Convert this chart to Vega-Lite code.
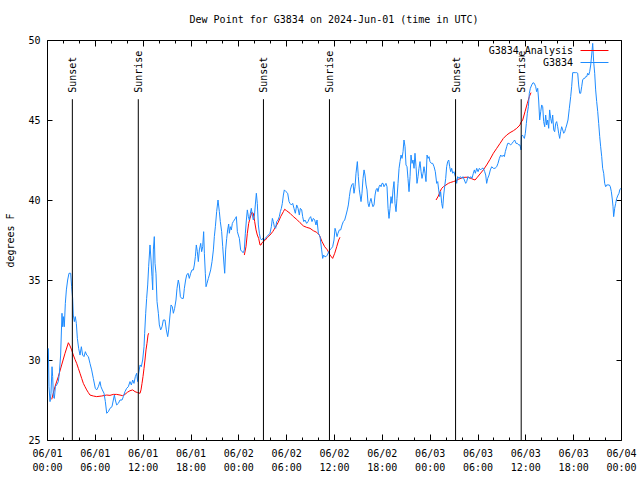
{
"$schema": "https://vega.github.io/schema/vega-lite/v6.json",
"width": 574, "height": 400,
"autosize": "none",
"padding": {"left": 47, "top": 40, "right": 19, "bottom": 40},
"background": "white",
"title": {"text": "Dew Point for G3834 on 2024-Jun-01 (time in UTC)", "font": "DejaVu Sans Mono", "fontSize": 10, "fontWeight": "normal", "color": "black", "anchor": "middle", "offset": 10},
"config": {
 "view": {"stroke": "black", "strokeWidth": 1},
 "axis": {"grid": false, "domain": false, "labelFont": "DejaVu Sans Mono", "labelFontSize": 10, "labelColor": "black", "tickColor": "black", "tickWidth": 1, "titleFont": "DejaVu Sans Mono", "titleFontSize": 10, "titleFontWeight": "normal", "titleColor": "black"}
},
"resolve": {"axis": {"x": "independent", "y": "independent"}},
"datasets": {
 "sun": [{"h":3.18,"ev":"Sunset"},{"h":11.45,"ev":"Sunrise"},{"h":27.15,"ev":"Sunset"},{"h":35.43,"ev":"Sunrise"},{"h":51.25,"ev":"Sunset"},{"h":59.48,"ev":"Sunrise"}],
 "ana": [
{"seg":1,"h":0.59,"v":27.54},{"seg":1,"h":1.00,"v":28.33},{"seg":1,"h":1.42,"v":28.96},{"seg":1,"h":1.84,"v":29.69},{"seg":1,"h":2.26,"v":30.42},{"seg":1,"h":2.68,"v":31.08},{"seg":1,"h":2.89,"v":30.88},{"seg":1,"h":3.09,"v":30.63},{"seg":1,"h":3.30,"v":30.31},{"seg":1,"h":3.51,"v":30.04},{"seg":1,"h":3.72,"v":29.79},{"seg":1,"h":3.93,"v":29.48},{"seg":1,"h":4.14,"v":29.17},{"seg":1,"h":4.35,"v":28.85},{"seg":1,"h":4.56,"v":28.54},{"seg":1,"h":4.77,"v":28.33},{"seg":1,"h":4.98,"v":28.13},{"seg":1,"h":5.19,"v":27.96},{"seg":1,"h":5.39,"v":27.81},{"seg":1,"h":5.81,"v":27.75},{"seg":1,"h":6.23,"v":27.71},{"seg":1,"h":6.86,"v":27.75},{"seg":1,"h":7.49,"v":27.81},{"seg":1,"h":7.90,"v":27.79},{"seg":1,"h":8.32,"v":27.85},{"seg":1,"h":8.74,"v":27.85},{"seg":1,"h":9.16,"v":27.81},{"seg":1,"h":9.49,"v":27.77},{"seg":1,"h":9.78,"v":27.85},{"seg":1,"h":10.08,"v":27.98},{"seg":1,"h":10.41,"v":28.08},{"seg":1,"h":10.75,"v":28.13},{"seg":1,"h":11.04,"v":28.02},{"seg":1,"h":11.37,"v":27.96},{"seg":1,"h":11.67,"v":27.92},{"seg":1,"h":11.79,"v":28.13},{"seg":1,"h":11.92,"v":28.54},{"seg":1,"h":12.04,"v":28.96},{"seg":1,"h":12.17,"v":29.48},{"seg":1,"h":12.29,"v":30.00},{"seg":1,"h":12.42,"v":30.63},{"seg":1,"h":12.54,"v":31.04},{"seg":1,"h":12.67,"v":31.56},{"seg":1,"h":12.75,"v":31.67},
{"seg":2,"h":24.75,"v":36.56},{"seg":2,"h":24.96,"v":37.08},{"seg":2,"h":25.13,"v":37.92},{"seg":2,"h":25.30,"v":38.54},{"seg":2,"h":25.46,"v":38.85},{"seg":2,"h":25.67,"v":39.21},{"seg":2,"h":25.88,"v":39.17},{"seg":2,"h":26.05,"v":38.65},{"seg":2,"h":26.22,"v":38.13},{"seg":2,"h":26.38,"v":37.81},{"seg":2,"h":26.55,"v":37.60},{"seg":2,"h":26.72,"v":37.19},{"seg":2,"h":26.84,"v":37.19},{"seg":2,"h":26.97,"v":37.33},{"seg":2,"h":27.14,"v":37.40},{"seg":2,"h":27.39,"v":37.50},{"seg":2,"h":27.64,"v":37.67},{"seg":2,"h":27.97,"v":37.81},{"seg":2,"h":28.31,"v":38.02},{"seg":2,"h":28.64,"v":38.29},{"seg":2,"h":28.98,"v":38.58},{"seg":2,"h":29.31,"v":38.96},{"seg":2,"h":29.65,"v":39.27},{"seg":2,"h":29.81,"v":39.42},{"seg":2,"h":30.06,"v":39.33},{"seg":2,"h":30.48,"v":39.17},{"seg":2,"h":30.90,"v":38.96},{"seg":2,"h":31.32,"v":38.79},{"seg":2,"h":31.74,"v":38.58},{"seg":2,"h":32.16,"v":38.38},{"seg":2,"h":32.57,"v":38.29},{"seg":2,"h":32.99,"v":38.23},{"seg":2,"h":33.41,"v":38.08},{"seg":2,"h":33.83,"v":37.98},{"seg":2,"h":34.16,"v":37.81},{"seg":2,"h":34.50,"v":37.40},{"seg":2,"h":34.83,"v":37.08},{"seg":2,"h":35.17,"v":36.88},{"seg":2,"h":35.50,"v":36.56},{"seg":2,"h":35.83,"v":36.35},{"seg":2,"h":36.09,"v":36.67},{"seg":2,"h":36.34,"v":37.08},{"seg":2,"h":36.59,"v":37.50},{"seg":2,"h":36.75,"v":37.67},
{"seg":3,"h":48.80,"v":40.00},{"seg":3,"h":49.09,"v":40.25},{"seg":3,"h":49.30,"v":40.52},{"seg":3,"h":49.51,"v":40.73},{"seg":3,"h":49.72,"v":40.83},{"seg":3,"h":50.05,"v":40.94},{"seg":3,"h":50.34,"v":41.04},{"seg":3,"h":50.64,"v":41.10},{"seg":3,"h":50.97,"v":41.15},{"seg":3,"h":51.31,"v":41.21},{"seg":3,"h":51.60,"v":41.29},{"seg":3,"h":52.02,"v":41.38},{"seg":3,"h":52.43,"v":41.42},{"seg":3,"h":52.85,"v":41.42},{"seg":3,"h":53.27,"v":41.33},{"seg":3,"h":53.69,"v":41.25},{"seg":3,"h":53.98,"v":41.42},{"seg":3,"h":54.32,"v":41.63},{"seg":3,"h":54.73,"v":41.88},{"seg":3,"h":55.15,"v":42.19},{"seg":3,"h":55.57,"v":42.54},{"seg":3,"h":55.99,"v":42.92},{"seg":3,"h":56.41,"v":43.23},{"seg":3,"h":56.83,"v":43.54},{"seg":3,"h":57.24,"v":43.85},{"seg":3,"h":57.66,"v":44.06},{"seg":3,"h":58.08,"v":44.21},{"seg":3,"h":58.50,"v":44.33},{"seg":3,"h":58.92,"v":44.48},{"seg":3,"h":59.33,"v":44.69},{"seg":3,"h":59.42,"v":44.83},{"seg":3,"h":59.67,"v":45.00},{"seg":3,"h":59.96,"v":45.52},{"seg":3,"h":60.25,"v":46.04},{"seg":3,"h":60.50,"v":46.46},{"seg":3,"h":60.71,"v":46.71}
 ],
 "obs": [
{"h":0.17,"v":30.73},{"h":0.25,"v":28.33},{"h":0.38,"v":27.40},{"h":0.50,"v":27.92},{"h":0.63,"v":29.58},{"h":0.71,"v":28.96},{"h":0.80,"v":27.71},{"h":0.92,"v":27.60},{"h":1.05,"v":28.33},{"h":1.21,"v":28.44},{"h":1.42,"v":28.65},{"h":1.55,"v":29.17},{"h":1.71,"v":30.31},{"h":1.88,"v":32.92},{"h":1.97,"v":32.08},{"h":2.05,"v":32.71},{"h":2.17,"v":32.08},{"h":2.30,"v":33.54},{"h":2.43,"v":34.38},{"h":2.59,"v":35.00},{"h":2.76,"v":35.42},{"h":2.97,"v":35.42},{"h":3.09,"v":34.58},{"h":3.22,"v":33.85},{"h":3.30,"v":32.81},{"h":3.43,"v":32.40},{"h":3.55,"v":32.71},{"h":3.68,"v":32.29},{"h":3.81,"v":31.35},{"h":3.97,"v":30.73},{"h":4.14,"v":30.31},{"h":4.31,"v":30.83},{"h":4.47,"v":30.31},{"h":4.64,"v":30.21},{"h":4.81,"v":30.52},{"h":4.98,"v":30.31},{"h":5.19,"v":30.21},{"h":5.39,"v":29.79},{"h":5.60,"v":29.38},{"h":5.81,"v":28.85},{"h":6.06,"v":28.23},{"h":6.23,"v":28.13},{"h":6.44,"v":28.33},{"h":6.65,"v":28.65},{"h":6.77,"v":28.33},{"h":6.94,"v":28.13},{"h":7.15,"v":27.92},{"h":7.32,"v":27.40},{"h":7.49,"v":26.67},{"h":7.69,"v":26.77},{"h":7.90,"v":26.98},{"h":8.15,"v":27.08},{"h":8.32,"v":27.50},{"h":8.45,"v":27.81},{"h":8.57,"v":27.50},{"h":8.74,"v":27.19},{"h":8.95,"v":27.29},{"h":9.16,"v":27.50},{"h":9.41,"v":27.50},{"h":9.58,"v":27.71},{"h":9.78,"v":28.02},{"h":9.99,"v":28.23},{"h":10.20,"v":28.33},{"h":10.41,"v":28.65},{"h":10.58,"v":28.44},{"h":10.75,"v":28.75},{"h":10.91,"v":28.54},{"h":11.08,"v":28.96},{"h":11.25,"v":29.17},{"h":11.37,"v":28.65},{"h":11.50,"v":29.17},{"h":11.67,"v":29.69},{"h":11.83,"v":29.58},{"h":12.00,"v":30.00},{"h":12.17,"v":30.83},{"h":12.25,"v":31.67},{"h":12.38,"v":32.92},{"h":12.50,"v":33.85},{"h":12.63,"v":34.69},{"h":12.75,"v":35.83},{"h":12.92,"v":37.19},{"h":13.05,"v":36.25},{"h":13.17,"v":35.21},{"h":13.26,"v":34.38},{"h":13.34,"v":36.88},{"h":13.46,"v":37.71},{"h":13.55,"v":36.04},{"h":13.67,"v":35.42},{"h":13.80,"v":33.65},{"h":13.97,"v":32.92},{"h":14.09,"v":32.19},{"h":14.26,"v":31.88},{"h":14.43,"v":32.08},{"h":14.59,"v":32.50},{"h":14.80,"v":32.50},{"h":14.97,"v":31.88},{"h":15.14,"v":31.46},{"h":15.26,"v":31.88},{"h":15.43,"v":32.81},{"h":15.56,"v":33.44},{"h":15.72,"v":33.33},{"h":15.85,"v":32.92},{"h":16.01,"v":33.23},{"h":16.18,"v":33.75},{"h":16.31,"v":34.48},{"h":16.47,"v":35.00},{"h":16.60,"v":34.69},{"h":16.73,"v":33.96},{"h":16.89,"v":33.85},{"h":17.10,"v":33.85},{"h":17.23,"v":34.48},{"h":17.39,"v":35.00},{"h":17.52,"v":35.31},{"h":17.69,"v":35.42},{"h":17.85,"v":35.10},{"h":18.02,"v":35.42},{"h":18.19,"v":35.63},{"h":18.36,"v":35.63},{"h":18.48,"v":35.94},{"h":18.61,"v":36.46},{"h":18.73,"v":37.19},{"h":18.86,"v":36.77},{"h":18.98,"v":36.15},{"h":19.11,"v":36.88},
{"h":19.28,"v":37.29},{"h":19.40,"v":36.77},{"h":19.53,"v":37.08},{"h":19.65,"v":38.02},{"h":19.74,"v":36.67},{"h":19.86,"v":35.42},{"h":19.95,"v":34.58},{"h":20.07,"v":34.79},{"h":20.24,"v":35.10},{"h":20.36,"v":35.31},{"h":20.53,"v":35.63},{"h":20.70,"v":36.15},{"h":20.87,"v":36.88},{"h":20.99,"v":37.71},{"h":21.12,"v":38.33},{"h":21.28,"v":39.27},{"h":21.45,"v":40.00},{"h":21.62,"v":39.27},{"h":21.74,"v":38.65},{"h":21.91,"v":38.02},{"h":22.04,"v":37.08},{"h":22.16,"v":36.25},{"h":22.29,"v":35.42},{"h":22.41,"v":36.88},{"h":22.54,"v":37.60},{"h":22.66,"v":38.13},{"h":22.79,"v":38.50},{"h":22.87,"v":37.92},{"h":23.00,"v":38.33},{"h":23.12,"v":38.13},{"h":23.25,"v":38.54},{"h":23.37,"v":38.65},{"h":23.50,"v":38.75},{"h":23.63,"v":38.85},{"h":23.75,"v":38.96},{"h":23.88,"v":38.02},{"h":24.00,"v":37.81},{"h":24.13,"v":37.60},{"h":24.29,"v":36.88},{"h":24.46,"v":36.77},{"h":24.63,"v":36.71},{"h":24.75,"v":36.88},{"h":24.88,"v":37.92},{"h":25.01,"v":38.75},{"h":25.13,"v":39.38},{"h":25.26,"v":38.96},{"h":25.38,"v":38.75},{"h":25.51,"v":39.17},{"h":25.63,"v":39.48},{"h":25.76,"v":39.06},{"h":25.88,"v":38.75},{"h":26.01,"v":38.96},{"h":26.13,"v":39.69},{"h":26.26,"v":40.42},{"h":26.38,"v":39.79},{"h":26.51,"v":38.44},{"h":26.64,"v":37.92},{"h":26.76,"v":37.60},{"h":26.93,"v":37.50},{"h":27.05,"v":37.60},{"h":27.22,"v":37.50},{"h":27.39,"v":37.60},{"h":27.56,"v":37.71},{"h":27.76,"v":37.81},{"h":27.97,"v":37.92},{"h":28.14,"v":38.33},{"h":28.27,"v":38.85},{"h":28.39,"v":38.65},{"h":28.52,"v":38.33},{"h":28.68,"v":38.23},{"h":28.81,"v":38.65},{"h":28.98,"v":38.75},{"h":29.14,"v":38.96},{"h":29.27,"v":39.27},{"h":29.40,"v":39.48},{"h":29.52,"v":39.79},{"h":29.65,"v":40.31},{"h":29.77,"v":40.63},{"h":29.98,"v":40.52},{"h":30.19,"v":40.42},{"h":30.36,"v":39.90},{"h":30.48,"v":39.79},{"h":30.65,"v":39.69},{"h":30.82,"v":39.79},{"h":30.98,"v":39.48},{"h":31.15,"v":39.17},{"h":31.32,"v":39.69},{"h":31.49,"v":39.48},{"h":31.65,"v":39.06},{"h":31.78,"v":39.48},{"h":31.95,"v":39.38},{"h":32.07,"v":38.96},{"h":32.20,"v":38.65},{"h":32.36,"v":38.75},{"h":32.57,"v":38.54},{"h":32.74,"v":38.65},{"h":32.91,"v":38.85},{"h":33.07,"v":38.96},{"h":33.24,"v":38.65},{"h":33.41,"v":38.85},{"h":33.58,"v":38.75},{"h":33.74,"v":38.44},{"h":33.87,"v":38.75},{"h":34.04,"v":37.92},{"h":34.25,"v":37.71},{"h":34.45,"v":36.88},{"h":34.58,"v":36.35},{"h":34.71,"v":36.56},{"h":34.83,"v":36.46},{"h":35.00,"v":36.46},{"h":35.17,"v":36.56},{"h":35.33,"v":36.77},{"h":35.50,"v":36.88},{"h":35.67,"v":36.98},{"h":35.83,"v":37.08},{"h":36.00,"v":37.50},{"h":36.13,"v":38.23},{"h":36.25,"v":38.02},{"h":36.38,"v":37.71},{"h":36.50,"v":37.92},{"h":36.67,"v":38.13},{"h":36.84,"v":38.13},{"h":37.01,"v":38.44},{"h":37.17,"v":38.65},{"h":37.34,"v":38.75},{"h":37.51,"v":39.06},{"h":37.67,"v":39.38},{"h":37.80,"v":39.69},{"h":37.93,"v":40.21},{"h":38.05,"v":40.63},{"h":38.22,"v":40.94},{"h":38.39,"v":41.04},{"h":38.51,"v":40.42},{"h":38.64,"v":40.83},{"h":38.76,"v":41.67},{"h":38.93,"v":42.40},{"h":39.05,"v":41.46},{"h":39.18,"v":40.63},
{"h":39.39,"v":39.90},{"h":39.51,"v":40.42},{"h":39.64,"v":41.35},{"h":39.77,"v":41.88},{"h":39.89,"v":41.56},{"h":40.02,"v":40.94},{"h":40.14,"v":40.63},{"h":40.27,"v":39.79},{"h":40.39,"v":39.58},{"h":40.52,"v":39.90},{"h":40.64,"v":40.10},{"h":40.77,"v":39.79},{"h":40.89,"v":39.58},{"h":41.02,"v":39.69},{"h":41.15,"v":40.31},{"h":41.27,"v":40.63},{"h":41.40,"v":40.73},{"h":41.52,"v":40.52},{"h":41.65,"v":40.83},{"h":41.77,"v":40.94},{"h":41.90,"v":40.83},{"h":42.02,"v":41.04},{"h":42.15,"v":41.04},{"h":42.27,"v":40.83},{"h":42.40,"v":40.94},{"h":42.52,"v":41.04},{"h":42.65,"v":40.83},{"h":42.78,"v":39.48},{"h":42.90,"v":38.85},{"h":43.03,"v":39.48},{"h":43.15,"v":40.21},{"h":43.28,"v":39.79},{"h":43.40,"v":40.63},{"h":43.53,"v":41.15},{"h":43.65,"v":39.79},{"h":43.78,"v":39.27},{"h":43.90,"v":40.10},{"h":44.03,"v":41.04},{"h":44.16,"v":41.98},{"h":44.28,"v":42.40},{"h":44.41,"v":42.81},{"h":44.53,"v":42.60},{"h":44.66,"v":43.02},{"h":44.78,"v":43.75},{"h":44.91,"v":43.33},{"h":45.03,"v":42.19},{"h":45.16,"v":42.08},{"h":45.28,"v":41.35},{"h":45.41,"v":40.52},{"h":45.54,"v":41.46},{"h":45.66,"v":42.81},{"h":45.79,"v":42.29},{"h":45.91,"v":42.50},{"h":46.04,"v":41.98},{"h":46.16,"v":42.92},{"h":46.29,"v":42.08},{"h":46.41,"v":41.04},{"h":46.54,"v":41.46},{"h":46.66,"v":41.98},{"h":46.79,"v":42.40},{"h":46.92,"v":41.77},{"h":47.04,"v":41.35},{"h":47.17,"v":41.67},{"h":47.29,"v":42.08},{"h":47.42,"v":41.67},{"h":47.54,"v":41.15},{"h":47.67,"v":42.81},{"h":47.79,"v":42.60},{"h":47.92,"v":42.71},{"h":48.04,"v":42.40},{"h":48.21,"v":42.29},{"h":48.38,"v":42.29},{"h":48.55,"v":42.08},{"h":48.71,"v":41.77},{"h":48.88,"v":41.04},{"h":49.01,"v":41.15},{"h":49.13,"v":40.63},{"h":49.26,"v":40.21},{"h":49.38,"v":40.52},{"h":49.51,"v":39.79},{"h":49.63,"v":39.48},{"h":49.76,"v":40.31},{"h":49.88,"v":40.83},{"h":50.01,"v":41.35},{"h":50.13,"v":42.08},{"h":50.26,"v":42.40},{"h":50.39,"v":42.50},{"h":50.51,"v":42.08},{"h":50.64,"v":41.77},{"h":50.76,"v":41.98},{"h":50.89,"v":41.67},{"h":51.05,"v":41.77},{"h":51.22,"v":41.46},{"h":51.39,"v":41.04},{"h":51.51,"v":41.46},{"h":51.68,"v":41.35},{"h":51.85,"v":41.46},{"h":52.02,"v":41.35},{"h":52.18,"v":41.46},{"h":52.35,"v":41.25},{"h":52.52,"v":41.04},{"h":52.64,"v":41.15},{"h":52.81,"v":41.46},{"h":52.98,"v":41.35},{"h":53.15,"v":41.46},{"h":53.31,"v":41.35},{"h":53.48,"v":41.67},{"h":53.61,"v":41.88},{"h":53.73,"v":41.67},{"h":53.90,"v":41.98},{"h":54.07,"v":41.77},{"h":54.23,"v":41.98},{"h":54.40,"v":41.88},{"h":54.57,"v":41.98},{"h":54.73,"v":41.98},{"h":54.90,"v":41.77},{"h":55.03,"v":41.56},{"h":55.15,"v":41.04},{"h":55.28,"v":41.35},{"h":55.45,"v":41.56},{"h":55.61,"v":41.88},{"h":55.78,"v":42.08},{"h":55.99,"v":41.98},{"h":56.20,"v":41.98},{"h":56.41,"v":42.08},{"h":56.57,"v":42.29},{"h":56.74,"v":42.60},{"h":56.91,"v":42.81},{"h":57.08,"v":42.71},{"h":57.24,"v":42.81},{"h":57.37,"v":42.71},{"h":57.49,"v":43.02},{"h":57.66,"v":43.33},{"h":57.79,"v":43.54},{"h":57.95,"v":43.54},{"h":58.16,"v":43.44},{"h":58.33,"v":43.54},{"h":58.50,"v":43.65},{"h":58.66,"v":43.75},{"h":58.83,"v":43.54},{"h":59.00,"v":43.54},{"h":59.17,"v":43.44},{"h":59.33,"v":43.44},{"h":59.46,"v":43.13},{"h":59.50,"v":43.96},
{"h":59.63,"v":44.06},{"h":59.75,"v":43.96},{"h":59.88,"v":43.85},{"h":60.00,"v":44.17},{"h":60.13,"v":44.79},{"h":60.25,"v":45.42},{"h":60.38,"v":45.83},{"h":60.50,"v":46.67},{"h":60.63,"v":46.98},{"h":60.80,"v":47.19},{"h":60.96,"v":47.33},{"h":61.13,"v":47.29},{"h":61.30,"v":47.08},{"h":61.42,"v":46.77},{"h":61.55,"v":46.98},{"h":61.67,"v":46.25},{"h":61.80,"v":45.00},{"h":61.93,"v":45.52},{"h":62.05,"v":45.94},{"h":62.18,"v":45.83},{"h":62.30,"v":44.90},{"h":62.43,"v":44.58},{"h":62.55,"v":45.31},{"h":62.68,"v":44.69},{"h":62.80,"v":45.00},{"h":62.93,"v":44.48},{"h":63.05,"v":45.63},{"h":63.18,"v":45.10},{"h":63.31,"v":44.79},{"h":63.43,"v":45.31},{"h":63.56,"v":44.38},{"h":63.68,"v":44.27},{"h":63.81,"v":44.79},{"h":63.93,"v":44.90},{"h":64.06,"v":44.58},{"h":64.18,"v":44.17},{"h":64.31,"v":43.85},{"h":64.43,"v":44.27},{"h":64.56,"v":44.58},{"h":64.69,"v":44.38},{"h":64.81,"v":44.17},{"h":64.94,"v":44.27},{"h":65.06,"v":44.48},{"h":65.19,"v":44.69},{"h":65.35,"v":45.00},{"h":65.52,"v":45.73},{"h":65.69,"v":46.46},{"h":65.81,"v":47.08},{"h":65.94,"v":47.96},{"h":66.11,"v":47.96},{"h":66.27,"v":47.96},{"h":66.44,"v":47.96},{"h":66.57,"v":47.92},{"h":66.69,"v":47.19},{"h":66.82,"v":46.67},{"h":66.94,"v":46.67},{"h":67.07,"v":47.08},{"h":67.19,"v":47.50},{"h":67.32,"v":47.60},{"h":67.45,"v":47.60},{"h":67.57,"v":47.71},{"h":67.70,"v":47.71},{"h":67.82,"v":47.92},{"h":67.95,"v":47.81},{"h":68.07,"v":48.02},{"h":68.20,"v":48.44},{"h":68.32,"v":49.06},{"h":68.45,"v":49.79},{"h":68.57,"v":48.65},{"h":68.70,"v":47.92},{"h":68.82,"v":46.88},{"h":68.95,"v":46.15},{"h":69.08,"v":45.52},{"h":69.20,"v":44.79},{"h":69.33,"v":43.96},{"h":69.45,"v":43.33},{"h":69.58,"v":42.71},{"h":69.70,"v":41.98},{"h":69.83,"v":41.67},{"h":69.95,"v":41.04},{"h":70.08,"v":40.83},{"h":70.20,"v":40.94},{"h":70.37,"v":40.94},{"h":70.54,"v":40.94},{"h":70.66,"v":40.83},{"h":70.79,"v":40.52},{"h":70.92,"v":40.00},{"h":71.00,"v":39.58},{"h":71.08,"v":38.96},{"h":71.21,"v":39.48},{"h":71.33,"v":39.79},{"h":71.46,"v":40.10},{"h":71.63,"v":40.31},{"h":71.75,"v":40.42},{"h":71.84,"v":40.63},{"h":71.96,"v":40.73}
 ]
},
"layer": [
 {
  "data": {"name": "ana"},
  "mark": {"type": "line", "strokeWidth": 1, "interpolate": "linear"},
  "encoding": {
   "x": {"field": "h", "type": "quantitative", "scale": {"domain": [0, 72], "nice": false, "zero": false},
    "axis": {"orient": "bottom", "values": [0,6,12,18,24,30,36,42,48,54,60,66,72], "tickSize": -6, "labelPadding": 14, "labelBaseline": "top", "labelLineHeight": 14, "labelFlush": false, "labelOverlap": false, "title": null,
     "labelExpr": "['06/0' + (1 + floor(datum.value / 24)), (datum.value % 24 < 10 ? '0' : '') + (datum.value % 24) + ':00']"}},
   "y": {"field": "v", "type": "quantitative", "scale": {"domain": [25, 50], "nice": false, "zero": false},
    "axis": {"orient": "left", "values": [25,30,35,40,45,50], "tickSize": -5, "labelPadding": 12, "title": "degrees F", "titleX": -37, "titleY": 200, "titleAngle": 270, "titleAlign": "center", "titleBaseline": "middle"}},
   "color": {"datum": "G3834_Analysis", "type": "nominal", "scale": {"domain": ["G3834_Analysis", "G3834"], "range": ["#ff0000", "#1e8cff"]},
    "legend": {"orient": "none", "legendX": 541, "legendY": 4, "title": null, "padding": 0, "symbolType": "M-2.33,0L2.33,0", "symbolSize": 144, "symbolStrokeWidth": 1, "labelFont": "DejaVu Sans Mono", "labelFontSize": 10, "labelColor": "black", "labelAlign": "right", "labelOffset": -28, "rowPadding": -1, "labelExpr": "pad(datum.label, 14, ' ', 'left')",
     "encode": {"symbols": {"update": {"stroke": {"scale": "color", "field": "value"}, "fill": {"value": "transparent"}}}}}},
   "detail": {"field": "seg", "type": "nominal"}
  }
 },
 {
  "data": {"name": "obs"},
  "mark": {"type": "line", "strokeWidth": 1, "interpolate": "linear"},
  "encoding": {
   "x": {"field": "h", "type": "quantitative", "scale": {"domain": [0, 72], "nice": false, "zero": false},
    "axis": {"orient": "top", "values": [0,6,12,18,24,30,36,42,48,54,60,66,72], "tickSize": -6, "labels": false, "title": null}},
   "y": {"field": "v", "type": "quantitative", "scale": {"domain": [25, 50], "nice": false, "zero": false},
    "axis": {"orient": "right", "values": [25,30,35,40,45,50], "tickSize": -5, "labels": false, "title": null}},
   "color": {"datum": "G3834", "type": "nominal"}
  }
 },
 {
  "data": {"name": "sun"},
  "mark": {"type": "rule", "color": "black", "strokeWidth": 1},
  "encoding": {
   "x": {"field": "h", "type": "quantitative", "scale": {"domain": [0, 72], "nice": false, "zero": false},
    "axis": {"orient": "bottom", "values": [2,4,8,10,14,16,20,22,26,28,32,34,38,40,44,46,50,52,56,58,62,64,68,70], "tickSize": -3, "labels": false, "title": null}},
   "y": {"datum": 46.3, "type": "quantitative", "scale": {"domain": [25, 50], "nice": false, "zero": false}, "axis": null},
   "y2": {"datum": 25}
  }
 },
 {
  "data": {"name": "sun"},
  "mark": {"type": "text", "angle": 270, "align": "left", "baseline": "middle", "dy": 1, "font": "DejaVu Sans Mono", "fontSize": 10, "color": "black"},
  "encoding": {
   "x": {"field": "h", "type": "quantitative", "scale": {"domain": [0, 72], "nice": false, "zero": false},
    "axis": {"orient": "top", "values": [2,4,8,10,14,16,20,22,26,28,32,34,38,40,44,46,50,52,56,58,62,64,68,70], "tickSize": -3, "labels": false, "title": null}},
   "y": {"datum": 46.7, "type": "quantitative", "scale": {"domain": [25, 50], "nice": false, "zero": false}, "axis": null},
   "text": {"field": "ev"}
  }
 }
]
}
